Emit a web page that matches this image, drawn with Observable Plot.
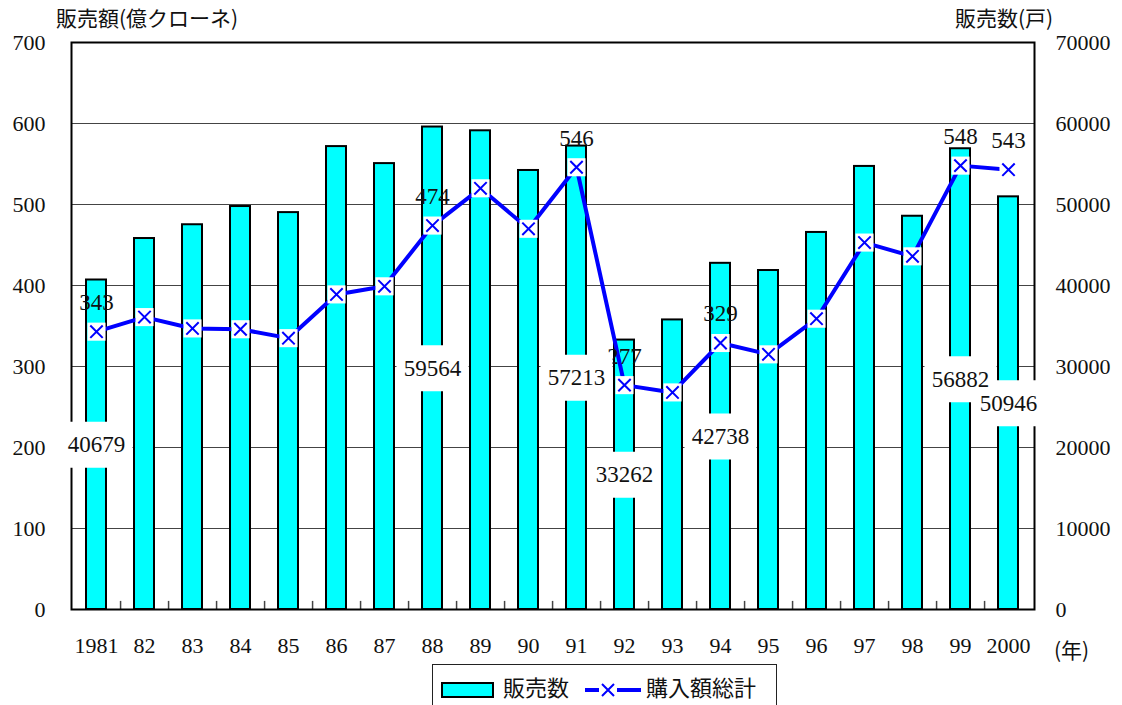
<!DOCTYPE html>
<html>
<head>
<meta charset="utf-8">
<script src="https://cdn.jsdelivr.net/npm/d3@7"></script>
<script src="https://cdn.jsdelivr.net/npm/@observablehq/plot@0.6"></script>
<style>
  html, body { margin: 0; padding: 0; background: white; }
  #wrap { position: relative; width: 1122px; height: 705px; overflow: hidden; background: white; }
  .jp { position: absolute; font-family: "Noto Sans CJK JP", sans-serif; color: #111; white-space: nowrap; }
  #legend { position: absolute; left: 432px; top: 664px; width: 343px; height: 60px; border: 1px solid #222; background: white; }
</style>
</head>
<body>
<div id="wrap">
  <div id="chart"></div>
  <div class="jp" style="left:56px; top:2px; font-size:21px;">販売額(億クローネ)</div>
  <div class="jp" style="left:955px; top:2px; font-size:21px;">販売数(戸)</div>
  <div class="jp" style="left:1054px; top:634px; font-size:21px;">(年)</div>
  <div id="legend"></div>
</div>
<script>
const years = ["1981","82","83","84","85","86","87","88","89","90","91","92","93","94","95","96","97","98","99","2000"];
const sales = [40679,45800,47500,49750,49000,57150,55050,59564,59100,54200,57213,33262,35750,42738,41850,46550,54700,48550,56882,50946];
const purchase = [343,361,347,346,335,389,399,474,520,470,546,277,268,329,315,359,453,436,548,543];
const labeledYears = ["1981","88","91","92","94","99","2000"];
const leftTicks = [0,100,200,300,400,500,600,700];
const salesName = "販売数";
const purchaseName = "購入額総計";

const data = years.map((year, i) => ({year, sales: sales[i], purchase: purchase[i]}));
const labeled = data.filter(d => labeledYears.includes(d.year));

const boxSymbol = { draw(ctx) { ctx.rect(-36, -23, 72, 46); } };
const serif = "'Liberation Serif', 'Times New Roman', serif";

const chart = Plot.plot({
  width: 1122,
  height: 705,
  marginLeft: 71,
  marginRight: 88,
  marginTop: 42,
  marginBottom: 96,
  style: { fontFamily: serif, fontSize: "22px", color: "#111", background: "white" },
  x: { type: "band", domain: years, paddingInner: 0.58, paddingOuter: 0.29, axis: null, label: null },
  y: { domain: [0, 700], axis: null, label: null },
  marks: [
    Plot.ruleY(leftTicks, { stroke: "#444", strokeWidth: 1.2 }),
    Plot.barY(data, { x: "year", y: d => d.sales / 100, fill: "#00FFFF", stroke: "black", strokeWidth: 2 }),
    Plot.ruleX(years.slice(0, -1), { x: d => d, dx: 24.07, y1: 0, y2: 10, stroke: "#444", strokeWidth: 1.5 }),
    Plot.line(data, { x: "year", y: "purchase", stroke: "#0000FF", strokeWidth: 4 }),
    Plot.dot(data, { x: "year", y: "purchase", symbol: "square", r: 10.2, fill: "white" }),
    Plot.dot(data, { x: "year", y: "purchase", symbol: "times", r: 5.7, stroke: "#0000FF", strokeWidth: 2 }),
    Plot.frame({ stroke: "black", strokeWidth: 2 }),
    Plot.axisY({ anchor: "left", label: null, ticks: leftTicks, tickSize: 0, tickPadding: 26, fontSize: 22, tickFormat: d => String(d) }),
    Plot.axisY({ anchor: "right", label: null, ticks: leftTicks, tickSize: 0, tickPadding: 21, fontSize: 22, tickFormat: d => String(d * 100) }),
    Plot.axisX({ label: null, tickSize: 0, tickPadding: 28, fontSize: 22 }),
    Plot.text(labeled, { x: "year", y: "purchase", dy: -29, text: d => String(d.purchase), fontSize: 23, fill: "#111" }),
    Plot.dot(labeled, { x: "year", y: d => d.sales / 200, symbol: boxSymbol, fill: "white" }),
    Plot.text(labeled, { x: "year", y: d => d.sales / 200, text: d => String(d.sales), fontSize: 23, fill: "#111" })
  ]
});
document.getElementById("chart").appendChild(chart);

// legend
const lg = document.getElementById("legend");
lg.innerHTML = `
<svg width="343" height="60" style="position:absolute;left:0;top:0">
  <rect x="9" y="18" width="51" height="14" fill="#00FFFF" stroke="black" stroke-width="2"></rect>
  <text x="70" y="25" dominant-baseline="middle" font-family="Noto Sans CJK JP" font-size="22" fill="#111">${salesName}</text>
  <line x1="152" x2="208" y1="25" y2="25" stroke="#0000FF" stroke-width="4"></line>
  <rect x="166" y="16" width="18" height="18" fill="white"></rect>
  <path d="M169,19L181,31M181,19L169,31" stroke="#0000FF" stroke-width="2"></path>
  <text x="213" y="25" dominant-baseline="middle" font-family="Noto Sans CJK JP" font-size="22" fill="#111">${purchaseName}</text>
</svg>`;
</script>
</body>
</html>
